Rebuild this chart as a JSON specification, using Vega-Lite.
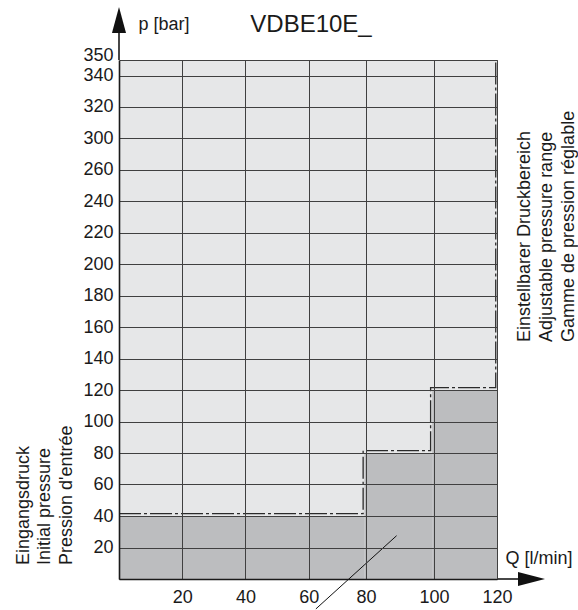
{
  "$schema": "https://vega.github.io/schema/vega-lite/v6.json",
  "autosize": {"type": "none"},
  "padding": {"left": 119, "top": 60, "right": 81, "bottom": 31},
  "width": 378,
  "height": 519,
  "background": "white",
  "config": {
    "font": "Liberation Sans",
    "view": {"stroke": "#555555", "strokeWidth": 1},
    "axis": {
      "labelFont": "Liberation Sans",
      "labelFontSize": 18,
      "labelColor": "#1a1a1a",
      "titleFont": "Liberation Sans",
      "titleFontSize": 18,
      "titleFontWeight": "normal",
      "titleColor": "#1a1a1a",
      "domainColor": "#1a1a1a",
      "domainWidth": 1.6,
      "gridColor": "#404040",
      "gridWidth": 1,
      "gridOpacity": 1,
      "ticks": false,
      "tickSize": 0
    }
  },
  "datasets": {
    "regions": [
      {"q0": 0, "q1": 120, "p0": 0, "p1": 350, "zone": "adjustable"},
      {"q0": 0, "q1": 79.5, "p0": 0, "p1": 40, "zone": "initial"},
      {"q0": 79.5, "q1": 99.5, "p0": 0, "p1": 80, "zone": "initial"},
      {"q0": 99.5, "q1": 120, "p0": 0, "p1": 120, "zone": "initial"}
    ],
    "boundary": [
      {"q": 0, "p": 41.5, "i": 0},
      {"q": 79, "p": 41.5, "i": 1},
      {"q": 79, "p": 81.5, "i": 2},
      {"q": 99, "p": 81.5, "i": 3},
      {"q": 99, "p": 121.5, "i": 4},
      {"q": 119.6, "p": 121.5, "i": 5},
      {"q": 119.6, "p": 350, "i": 6}
    ],
    "leader": [
      {"q": 89, "p": 27.5, "q2": 62.5, "p2": -19}
    ]
  },
  "layer": [
    {
      "data": {"name": "regions"},
      "mark": {"type": "rect"},
      "encoding": {
        "x": {
          "field": "q0", "type": "quantitative",
          "scale": {"type": "linear", "domain": [0, 60, 80, 100, 120], "range": [0, 189.7, 247, 315, 378], "nice": false, "zero": false},
          "axis": {
            "values": [20, 40, 60, 80, 100, 120],
            "tickCount": 50,
            "grid": true,
            "zindex": 1,
            "labelOverlap": false,
            "labelFlush": false,
            "labelBound": false,
            "labelPadding": 9,
            "title": "Q [l/min]",
            "titleX": 386,
            "titleY": -16,
            "titleAlign": "left",
            "titleBaseline": "alphabetic",
            "titleAngle": 0
          }
        },
        "x2": {"field": "q1"},
        "y": {
          "field": "p0", "type": "quantitative",
          "scale": {"type": "linear", "domain": [0, 260, 300, 350], "range": [519, 109.5, 78, 0], "nice": false, "zero": false},
          "axis": {
            "values": [20, 40, 60, 80, 100, 120, 140, 160, 180, 200, 220, 240, 260, 300, 320, 340, 350],
            "tickCount": 50,
            "grid": true,
            "zindex": 1,
            "labelOverlap": false,
            "labelFlush": false,
            "labelBound": false,
            "labelPadding": 6,
            "labelBaseline": {"condition": {"test": "datum.value == 350", "value": "alphabetic"}, "value": "middle"},
            "title": "p [bar]",
            "titleX": 19,
            "titleY": -30.5,
            "titleAlign": "left",
            "titleBaseline": "alphabetic",
            "titleAngle": 0
          }
        },
        "y2": {"field": "p1"},
        "color": {
          "field": "zone", "type": "nominal",
          "scale": {"domain": ["adjustable", "initial"], "range": ["#e6e7e8", "#bcbdbf"]},
          "legend": null
        }
      }
    },
    {
      "data": {"name": "boundary"},
      "mark": {"type": "line", "color": "#2a2a2a", "strokeWidth": 1.3, "strokeDash": [22, 3, 3, 3]},
      "encoding": {
        "x": {"field": "q", "type": "quantitative", "scale": {"type": "linear", "domain": [0, 60, 80, 100, 120], "range": [0, 189.7, 247, 315, 378], "nice": false, "zero": false}},
        "y": {"field": "p", "type": "quantitative", "scale": {"type": "linear", "domain": [0, 260, 300, 350], "range": [519, 109.5, 78, 0], "nice": false, "zero": false}},
        "order": {"field": "i", "type": "quantitative"}
      }
    },
    {
      "data": {"name": "leader"},
      "mark": {"type": "rule", "color": "#111111", "strokeWidth": 1},
      "encoding": {
        "x": {"field": "q", "type": "quantitative", "scale": {"type": "linear", "domain": [0, 60, 80, 100, 120], "range": [0, 189.7, 247, 315, 378], "nice": false, "zero": false}},
        "y": {"field": "p", "type": "quantitative", "scale": {"type": "linear", "domain": [0, 260, 300, 350], "range": [519, 109.5, 78, 0], "nice": false, "zero": false}},
        "x2": {"field": "q2"},
        "y2": {"field": "p2"}
      }
    },
    {
      "data": {"values": [{}]},
      "mark": {"type": "rule", "color": "#1a1a1a", "strokeWidth": 1.6},
      "encoding": {
        "x": {"datum": 0, "type": "quantitative", "scale": {"type": "linear", "domain": [0, 60, 80, 100, 120], "range": [0, 189.7, 247, 315, 378], "nice": false, "zero": false}},
        "y": {"datum": 350, "type": "quantitative", "scale": {"type": "linear", "domain": [0, 260, 300, 350], "range": [519, 109.5, 78, 0], "nice": false, "zero": false}},
        "y2": {"datum": 367.3}
      }
    },
    {
      "data": {"values": [{}]},
      "mark": {"type": "rule", "color": "#1a1a1a", "strokeWidth": 1.6},
      "encoding": {
        "x": {"datum": 120, "type": "quantitative", "scale": {"type": "linear", "domain": [0, 60, 80, 100, 120], "range": [0, 189.7, 247, 315, 378], "nice": false, "zero": false}},
        "x2": {"datum": 126.7},
        "y": {"datum": 0, "type": "quantitative", "scale": {"type": "linear", "domain": [0, 260, 300, 350], "range": [519, 109.5, 78, 0], "nice": false, "zero": false}}
      }
    },
    {
      "data": {"values": [{}]},
      "mark": {"type": "point", "shape": "M-0.54,1L0,-1L0.54,1Z", "size": 676, "filled": true, "opacity": 1, "color": "#111111", "strokeWidth": 0},
      "encoding": {
        "x": {"datum": 0, "type": "quantitative", "scale": {"type": "linear", "domain": [0, 60, 80, 100, 120], "range": [0, 189.7, 247, 315, 378], "nice": false, "zero": false}},
        "y": {"datum": 375.6, "type": "quantitative", "scale": {"type": "linear", "domain": [0, 260, 300, 350], "range": [519, 109.5, 78, 0], "nice": false, "zero": false}}
      }
    },
    {
      "data": {"values": [{}]},
      "mark": {"type": "point", "shape": "M-1,-0.52L1,0L-1,0.52Z", "size": 729, "filled": true, "opacity": 1, "color": "#111111", "strokeWidth": 0},
      "encoding": {
        "x": {"datum": 130.95, "type": "quantitative", "scale": {"type": "linear", "domain": [0, 60, 80, 100, 120], "range": [0, 189.7, 247, 315, 378], "nice": false, "zero": false}},
        "y": {"datum": 0, "type": "quantitative", "scale": {"type": "linear", "domain": [0, 260, 300, 350], "range": [519, 109.5, 78, 0], "nice": false, "zero": false}}
      }
    },
    {
      "data": {"values": [{}]},
      "mark": {"type": "text", "text": "VDBE10E_", "font": "Liberation Sans", "fontSize": 24, "align": "center", "baseline": "alphabetic", "color": "#1a1a1a"},
      "encoding": {
        "x": {"datum": 60.8, "type": "quantitative", "scale": {"type": "linear", "domain": [0, 60, 80, 100, 120], "range": [0, 189.7, 247, 315, 378], "nice": false, "zero": false}},
        "y": {"datum": 368.1, "type": "quantitative", "scale": {"type": "linear", "domain": [0, 260, 300, 350], "range": [519, 109.5, 78, 0], "nice": false, "zero": false}}
      }
    },
    {
      "data": {"values": [{}]},
      "mark": {"type": "text", "text": ["Eingangsdruck", "Initial pressure", "Pression d'entrée"], "font": "Liberation Sans", "fontSize": 18, "angle": 270, "align": "left", "baseline": "middle", "lineHeight": 21.5, "color": "#1a1a1a"},
      "encoding": {
        "x": {"datum": -30.2, "type": "quantitative", "scale": {"type": "linear", "domain": [0, 60, 80, 100, 120], "range": [0, 189.7, 247, 315, 378], "nice": false, "zero": false}},
        "y": {"datum": 8.9, "type": "quantitative", "scale": {"type": "linear", "domain": [0, 260, 300, 350], "range": [519, 109.5, 78, 0], "nice": false, "zero": false}}
      }
    },
    {
      "data": {"values": [{}]},
      "mark": {"type": "text", "text": ["Einstellbarer Druckbereich", "Adjustable pressure range", "Gamme de pression réglable"], "font": "Liberation Sans", "fontSize": 18, "angle": 270, "align": "left", "baseline": "middle", "lineHeight": 22, "color": "#1a1a1a"},
      "encoding": {
        "x": {"datum": 128.9, "type": "quantitative", "scale": {"type": "linear", "domain": [0, 60, 80, 100, 120], "range": [0, 189.7, 247, 315, 378], "nice": false, "zero": false}},
        "y": {"datum": 150.5, "type": "quantitative", "scale": {"type": "linear", "domain": [0, 260, 300, 350], "range": [519, 109.5, 78, 0], "nice": false, "zero": false}}
      }
    }
  ]
}
